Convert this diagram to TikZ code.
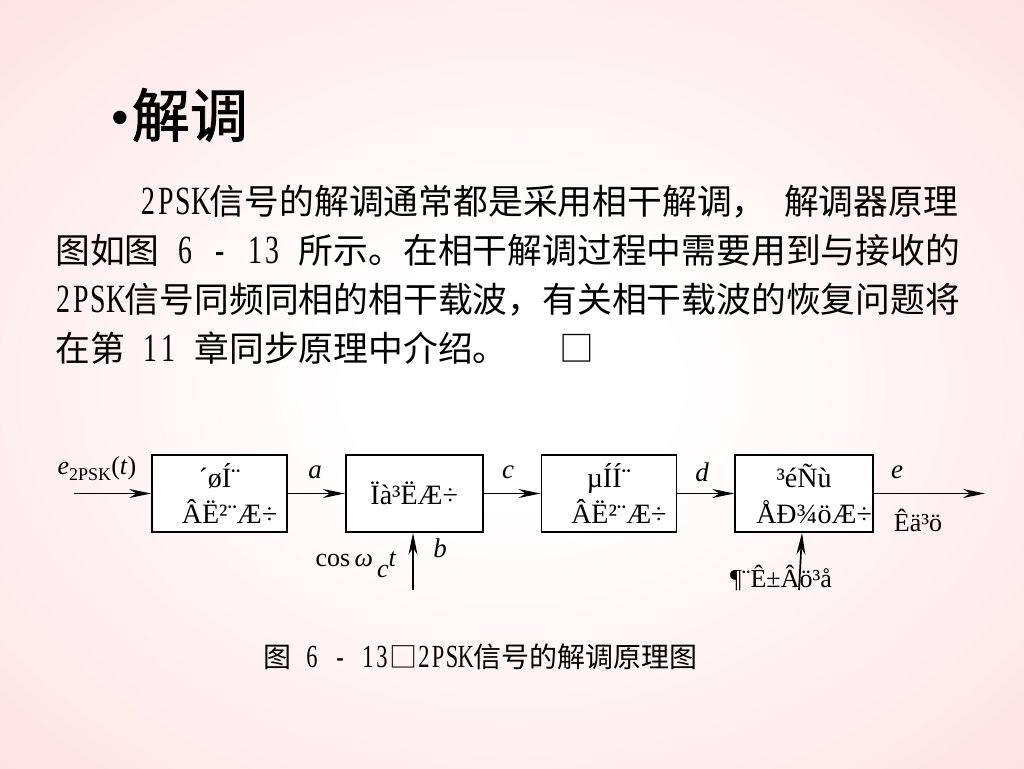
\documentclass[tikz,border=0pt]{standalone}
\usepackage{fontspec}
\setmainfont{Liberation Serif}
\newfontfamily\cjk{Noto Sans CJK SC}
\newfontfamily\cjkbf[FakeBold=1.5]{Noto Sans CJK SC}
\usetikzlibrary{arrows.meta,positioning}

\definecolor{bgpink}{RGB}{255,214,214}
\pgfdeclareradialshading{slidebg}{\pgfpoint{0bp}{0bp}}{color(0bp)=(white);color(8bp)=(white);color(48bp)=(bgpink);color(100bp)=(bgpink)}

% half-width latin letters inside the chinese lines
\newcommand\hw[1]{\hwloop#1\relax}
\def\hwloop#1{\ifx#1\relax\else\makebox[0.5em]{\scalebox{0.8}[1.15]{\rmfamily#1}}\expandafter\hwloop\fi}

\tikzset{
  para/.style={anchor=west, inner sep=0pt, font=\cjk\fontsize{34.8}{40}\selectfont},
  blk/.style={draw, line width=1.7pt, fill=white, minimum width=135pt, minimum height=77pt,
    align=center, inner sep=0pt, font=\fontsize{28}{36}\selectfont},
  sig/.style={line width=1.7pt, -{Stealth[length=22pt,width=9pt]}},
  lbl/.style={font=\fontsize{27}{30}\selectfont\itshape},
  txt/.style={font=\fontsize{26}{30}\selectfont}
}

\begin{document}
\begin{tikzpicture}[x=1pt,y=-1pt]
  \useasboundingbox (0,0) rectangle (1024,768);
  \shade[shading=slidebg] (0,0) rectangle (1024,768);

  % title and text
  \node[anchor=west, inner sep=0pt, font=\cjkbf\fontsize{58}{60}\selectfont] (title) at (110,115) {{\rmfamily\fontsize{56}{56}\selectfont•}\hspace{2pt}解调};
  \node[para] (l1) at (140,202) {\hw{2PSK}信号的解调通常都是采用相干解调，\hw{~}解调器原理};
  \node[para] (l2) at (55,250) {图如图\hw{~6~-~13~}所示。在相干解调过程中需要用到与接收的};
  \node[para] (l3) at (55,300) {\hw{2PSK}信号同频同相的相干载波，有关相干载波的恢复问题将};
  \node[para] (l4) at (55,348) {在第\hw{~11~}章同步原理中介绍。\hw{~~~}□};

  % blocks
  \node[blk] (bpf) at (219.5,493.5) {´øÍ¨\\\hspace*{20pt}ÂË²¨Æ÷};
  \node[blk, right=57pt of bpf, minimum width=137pt] (mul) {Ïà³ËÆ÷};
  \node[blk, right=57pt of mul] (lpf) {µÍÍ¨\\\hspace*{20pt}ÂË²¨Æ÷};
  \node[blk, right=57pt of lpf, minimum width=138pt] (dec) {³éÑù\\\hspace*{20pt}ÅÐ¾öÆ÷};

  % free ends
  \coordinate (src) at (74,493.5);
  \coordinate (snk) at (985,493.5);
  \coordinate (car) at (413,590);
  \coordinate (clk) at (799,590);

  \draw[sig] (src) -- (bpf);
  \draw[sig] (bpf) -- (mul);
  \draw[sig] (mul) -- (lpf);
  \draw[sig] (lpf) -- (dec);
  \draw[sig] (dec) -- (snk);
  \draw[sig] (car) -- (car |- mul.south);
  \draw[sig] (clk) -- (dec);

  % signal labels
  \node[txt] (lin) at (97,469) {\textit{e}\raisebox{-0.5ex}{\fontsize{18}{20}\selectfont 2PSK}(\textit{t})};
  \node[lbl] (la) at (315,472) {a};
  \node[lbl] (lb) at (440,548) {b};
  \node[lbl] (lc) at (508,472) {c};
  \node[lbl] (ld) at (702,472) {d};
  \node[lbl] (le) at (897,472) {e};
  \node[txt] (lcar) at (356,565) {cos\,\textit{ω}\,\raisebox{-0.9ex}{\textit{c}}\textit{t}};
  \node[txt] (lout) at (918,520) {Êä³ö};
  \node[txt] (lclk) at (781,578) {¶¨Ê±Âö³å};

  % caption
  \node[font=\cjk\fontsize{28}{30}\selectfont] (cap) at (480,657) {图\hw{~6~-~13}□\hw{2PSK}信号的解调原理图};
\end{tikzpicture}
\end{document}
